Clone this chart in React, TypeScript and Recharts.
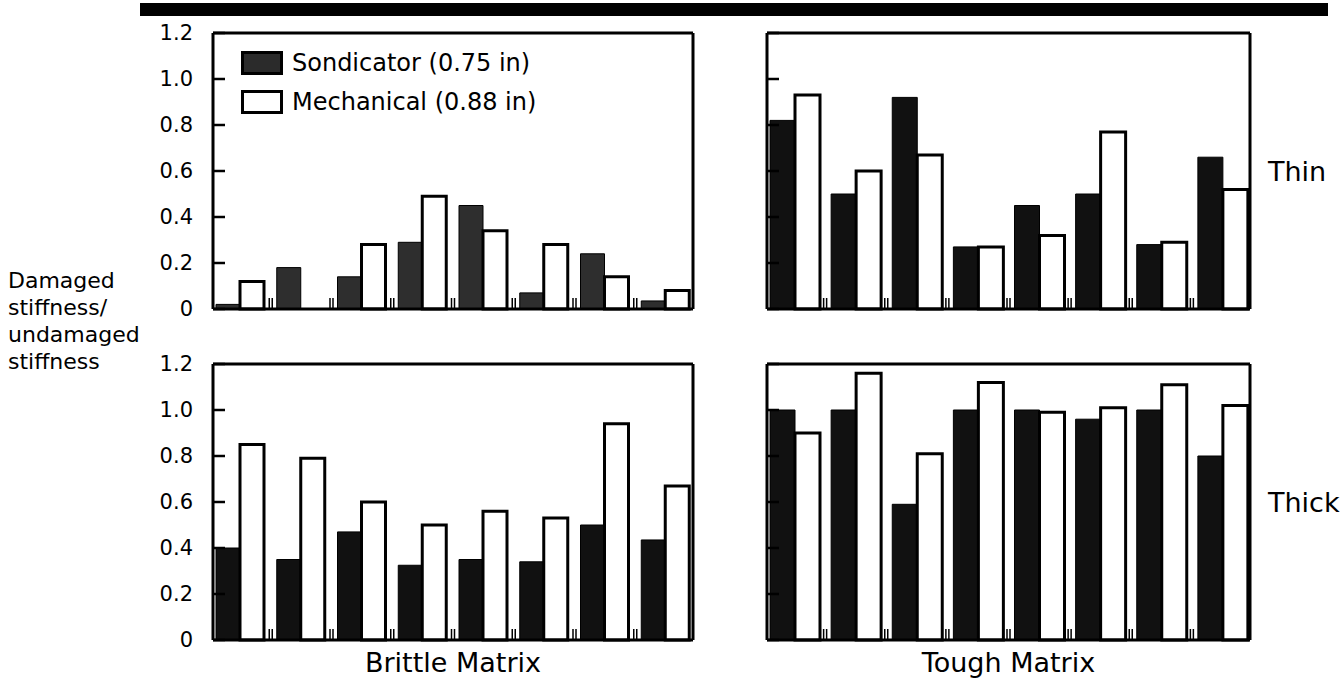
import React from 'react';
import { BarChart, Bar, XAxis, YAxis, Legend } from 'recharts';

const GROUPS = ['1', '2', '3', '4', '5', '6', '7', '8'];
const Y_TICKS = [0, 0.2, 0.4, 0.6, 0.8, 1.0, 1.2];

// Thin laminates
const brittleThinSondicator = [0.02, 0.18, 0.14, 0.29, 0.45, 0.07, 0.24, 0.035];
const brittleThinMechanical = [0.12, 0, 0.28, 0.49, 0.34, 0.28, 0.14, 0.08];
const toughThinSondicator = [0.82, 0.5, 0.92, 0.27, 0.45, 0.5, 0.28, 0.66];
const toughThinMechanical = [0.93, 0.6, 0.67, 0.27, 0.32, 0.77, 0.29, 0.52];

// Thick laminates
const brittleThickSondicator = [0.4, 0.35, 0.47, 0.325, 0.35, 0.34, 0.5, 0.435];
const brittleThickMechanical = [0.85, 0.79, 0.6, 0.5, 0.56, 0.53, 0.94, 0.67];
const toughThickSondicator = [1.0, 1.0, 0.59, 1.0, 1.0, 0.96, 1.0, 0.8];
const toughThickMechanical = [0.9, 1.16, 0.81, 1.12, 0.99, 1.01, 1.11, 1.02];

const FONT = '"DejaVu Sans", "Liberation Sans", Arial, sans-serif';
const GAP = 6;

const toRows = (sond: number[], mech: number[]) =>
  GROUPS.map((name, i) => ({ name, sondicator: sond[i], mechanical: mech[i] }));

const LegendBox = (props: any) => {
  const items = [...(props.payload || [])].sort((a: any, b: any) =>
    a.dataKey === 'sondicator' ? -1 : b.dataKey === 'sondicator' ? 1 : 0
  );
  return (
    <div style={{ fontFamily: FONT, fontSize: 24, color: '#000' }}>
      {items.map((item: any) => (
        <div key={item.value} style={{ display: 'flex', alignItems: 'center', height: 39 }}>
          <span
            style={{
              display: 'inline-block',
              width: 36,
              height: 18,
              marginRight: 9,
              background: item.dataKey === 'sondicator' ? '#2b2b2b' : '#fff',
              border: '3px solid #000',
            }}
          />
          <span>{item.value}</span>
        </div>
      ))}
    </div>
  );
};

const noTick = () => <g />;

// small double marks standing on the baseline between the groups
const makeDivider = (band: number) => (p: any) => {
  if (p.index >= GROUPS.length - 1) return <g />;
  const cx = p.x + band / 2;
  return (
    <g>
      <line x1={cx - 1.5} x2={cx - 1.5} y1={p.y} y2={p.y - 11} stroke="#000" strokeWidth={1.5} />
      <line x1={cx + 1.5} x2={cx + 1.5} y1={p.y} y2={p.y - 11} stroke="#000" strokeWidth={1.5} />
    </g>
  );
};

interface PanelProps {
  sond: number[];
  mech: number[];
  left: number;
  top: number;
  labels: boolean;
  darkFill: string;
  bottomLabel?: string;
  sideLabel?: string;
  legend?: boolean;
}

const Panel = ({ sond, mech, left, top, labels, darkFill, bottomLabel, sideLabel, legend }: PanelProps) => {
  const data = toRows(sond, mech);
  const yWidth = labels ? 100 : 10;
  const plotW = labels ? 480 : 483;
  const rightM = sideLabel ? 92 : 9;
  const bottomM = bottomLabel ? 44 : 18;
  const width = yWidth + plotW + 1 + rightM;
  // 276 plot + 1 top axis + 1 bottom axis
  const height = 19 + 1 + 276 + 1 + bottomM;
  const band = (plotW + GAP) / GROUPS.length;
  return (
    <div style={{ position: 'absolute', left, top }}>
      <BarChart
        width={width}
        height={height}
        data={data}
        margin={{ top: 19, right: rightM, bottom: bottomM, left: 0 }}
        barCategoryGap={GAP}
        barGap={0}
      >
        <XAxis
          xAxisId="cat"
          dataKey="name"
          height={1}
          interval={0}
          padding={{ left: -GAP / 2, right: -GAP / 2 }}
          tickSize={0}
          tickMargin={0}
          tickLine={false}
          tick={makeDivider(band)}
          axisLine={{ stroke: '#000', strokeWidth: 3 }}
          label={
            bottomLabel
              ? { value: bottomLabel, position: 'bottom', offset: 12, fill: '#000', fontSize: 27, fontFamily: FONT }
              : undefined
          }
        />
        <XAxis
          xAxisId="top"
          dataKey="name"
          orientation="top"
          height={1}
          tick={false}
          tickLine={false}
          axisLine={{ stroke: '#000', strokeWidth: 3 }}
        />
        <YAxis
          yAxisId="val"
          width={yWidth}
          domain={[0, 1.2]}
          ticks={Y_TICKS}
          interval={0}
          tickSize={-12}
          tickMargin={32}
          tickLine={{ stroke: '#000', strokeWidth: 2.5 }}
          axisLine={{ stroke: '#000', strokeWidth: 3 }}
          tick={labels ? { fill: '#000', fontSize: 21, fontFamily: FONT } : noTick}
          tickFormatter={(v: number) => (v === 0 ? '0' : v.toFixed(1))}
        />
        <YAxis
          yAxisId="right"
          orientation="right"
          width={1}
          domain={[0, 1.2]}
          tick={false}
          tickLine={false}
          axisLine={{ stroke: '#000', strokeWidth: 3 }}
          label={
            sideLabel
              ? { value: sideLabel, position: 'right', offset: 17, fill: '#000', fontSize: 27, fontFamily: FONT }
              : undefined
          }
        />
        {legend && (
          <Legend
            layout="horizontal"
            verticalAlign="middle"
            align="center"
            content={LegendBox}
            wrapperStyle={{ left: 128, top: 30, width: 'auto', height: 'auto' }}
          />
        )}
        <Bar
          xAxisId="cat"
          yAxisId="val"
          dataKey="sondicator"
          name="Sondicator (0.75 in)"
          fill={darkFill}
          stroke="#000"
          strokeWidth={1}
          isAnimationActive={false}
        />
        <Bar
          xAxisId="cat"
          yAxisId="val"
          dataKey="mechanical"
          name="Mechanical (0.88 in)"
          fill="#fff"
          stroke="#000"
          strokeWidth={3}
          isAnimationActive={false}
        />
      </BarChart>
    </div>
  );
};

export default function App() {
  return (
    <div
      style={{
        position: 'absolute',
        left: 0,
        top: 0,
        width: 1343,
        height: 685,
        background: '#fff',
        overflow: 'hidden',
        fontFamily: FONT,
      }}
    >
      <div style={{ position: 'absolute', left: 140, top: 3, width: 1188, height: 13, background: '#000' }} />
      <div
        style={{
          position: 'absolute',
          left: 8,
          top: 267,
          fontSize: 22,
          lineHeight: '27px',
          color: '#000',
        }}
      >
        Damaged
        <br />
        stiffness/
        <br />
        undamaged
        <br />
        stiffness
      </div>
      <Panel
        sond={brittleThinSondicator}
        mech={brittleThinMechanical}
        left={113}
        top={13}
        labels
        darkFill="#2e2e2e"
        legend
      />
      <Panel
        sond={toughThinSondicator}
        mech={toughThinMechanical}
        left={757}
        top={13}
        labels={false}
        darkFill="#111"
        sideLabel="Thin"
      />
      <Panel
        sond={brittleThickSondicator}
        mech={brittleThickMechanical}
        left={113}
        top={344}
        labels
        darkFill="#111"
        bottomLabel="Brittle Matrix"
      />
      <Panel
        sond={toughThickSondicator}
        mech={toughThickMechanical}
        left={757}
        top={344}
        labels={false}
        darkFill="#111"
        bottomLabel="Tough Matrix"
        sideLabel="Thick"
      />
    </div>
  );
}
